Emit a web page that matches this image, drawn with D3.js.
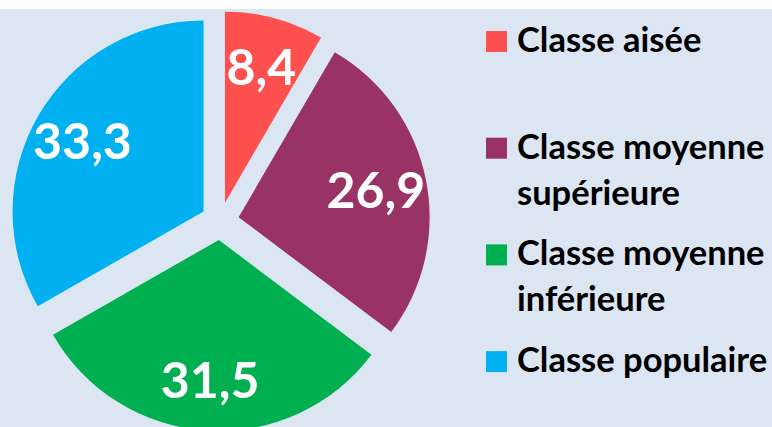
<!DOCTYPE html>
<html>
<head>
<meta charset="utf-8">
<script src="https://cdn.jsdelivr.net/npm/d3@7"></script>
<style>
  body { margin: 0; background: #fff; }
  text { font-family: Lato, "Open Sans", sans-serif; font-weight: bold; }
</style>
</head>
<body>
<div id="wrapper"></div>
<script>
// data
const categories = ["Classe aisée", "Classe moyenne supérieure", "Classe moyenne inférieure", "Classe populaire"]
const legendLines = [["Classe aisée"], ["Classe moyenne", "supérieure"], ["Classe moyenne", "inférieure"], ["Classe populaire"]]
const values = [8.4, 26.9, 31.5, 33.3]
const colors = ["#ff5050", "#993366", "#00b050", "#00b0f0"]

const data = categories.map((c, i) => ({ name: c, value: values[i], lines: legendLines[i], color: colors[i] }))

// dimensions
const dimensions = {
  width: 772,
  height: 427,
  top: 9,
  cx: 220,
  cy: 221,
  radius: 191,
  explode: 19,
  labelRadius: 140,
}

const wrapper = d3.select("#wrapper")
  .append("svg")
    .attr("width", dimensions.width)
    .attr("height", dimensions.height)

wrapper.append("rect")
    .attr("x", 0)
    .attr("y", dimensions.top)
    .attr("width", dimensions.width)
    .attr("height", dimensions.height - dimensions.top)
    .attr("fill", "#dce6f2")

// pie
const pie = d3.pie().sort(null).value(d => d.value)
const arcs = pie(data)

const arc = d3.arc()
  .innerRadius(0)
  .outerRadius(dimensions.radius)

const labelArc = d3.arc()
  .innerRadius(dimensions.labelRadius)
  .outerRadius(dimensions.labelRadius)

const bounds = wrapper.append("g")
    .attr("transform", `translate(${dimensions.cx},${dimensions.cy})`)

const midAngle = d => (d.startAngle + d.endAngle) / 2

const slices = bounds.selectAll("g.slice")
  .data(arcs)
  .join("g")
    .attr("class", "slice")
    .attr("transform", d => {
      const a = midAngle(d)
      return `translate(${Math.sin(a) * dimensions.explode},${-Math.cos(a) * dimensions.explode})`
    })

slices.append("path")
    .attr("d", arc)
    .attr("fill", d => d.data.color)

slices.append("text")
    .attr("transform", d => `translate(${labelArc.centroid(d)})`)
    .attr("text-anchor", "middle")
    .attr("dy", "0.36em")
    .attr("fill", "#fff")
    .style("font-size", "50px")
    .text(d => d3.format(".1f")(d.data.value).replace(".", ","))

// legend
const legend = wrapper.append("g")
const legendItem = legend.selectAll("g")
  .data(data)
  .join("g")
    .attr("transform", (d, i) => `translate(486,${52 + i * 106.7})`)

legendItem.append("rect")
    .attr("x", 0)
    .attr("y", -21)
    .attr("width", 21)
    .attr("height", 21)
    .attr("fill", d => d.color)

legendItem.append("text")
    .attr("x", 31)
    .style("font-size", "34.5px")
    .attr("fill", "#000")
  .selectAll("tspan")
  .data(d => d.lines)
  .join("tspan")
    .attr("x", 31)
    .attr("y", (d, i) => i * 46)
    .text(d => d)
</script>
</body>
</html>
